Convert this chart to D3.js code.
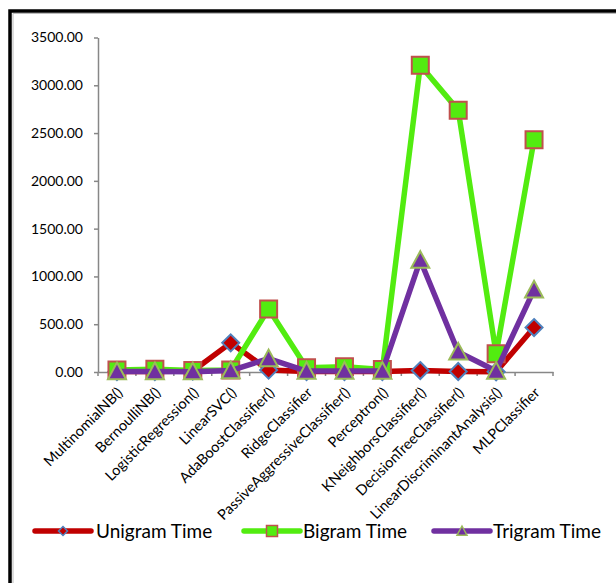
<!DOCTYPE html>
<html><head><meta charset="utf-8">
<script src="https://cdn.jsdelivr.net/npm/d3@7"></script>
<style>
html,body{margin:0;padding:0;background:#fff;}
svg{display:block;font-family:Lato, "Open Sans", sans-serif;}
</style></head>
<body>
<svg id="c" width="616" height="583"></svg>
<script>
const categories = ["MultinomialNB()","BernoulliNB()","LogisticRegression()","LinearSVC()","AdaBoostClassifier()","RidgeClassifier","PassiveAggressiveClassifier()","Perceptron()","KNeighborsClassifier()","DecisionTreeClassifier()","LinearDiscriminantAnalysis()","MLPClassifier"];
const unigram = [5,5,10,305,20,5,5,5,15,5,3,465];
const bigram  = [20,30,15,20,660,45,55,25,3210,2740,190,2430];
const trigram = [5,5,3,15,140,10,10,10,1170,210,10,860];
const yTicks = [0,500,1000,1500,2000,2500,3000,3500];
const seriesNames = ["Unigram Time","Bigram Time","Trigram Time"];

const svg = d3.select("#c");
// frame
svg.append("rect").attr("x",10).attr("y",11).attr("width",800).attr("height",800)
  .attr("fill","#fff").attr("stroke","#000").attr("stroke-width",3.5);
svg.append("path").attr("d","M13,583V13.5H616").attr("fill","none").attr("stroke","#bbb").attr("stroke-width",1);

const x = d3.scaleBand().domain(categories).range([98,553]);
const y = d3.scaleLinear().domain([0,3500]).range([372,37.5]);
const axisColor = "#878787";

// y axis
const ya = svg.append("g").attr("transform","translate(98,0)")
  .call(d3.axisLeft(y).tickValues(yTicks).tickSize(4).tickSizeOuter(0).tickPadding(11).tickFormat(d3.format(".2f")));
ya.select(".domain").attr("stroke",axisColor).attr("stroke-width",1.5);
ya.selectAll(".tick line").attr("stroke",axisColor).attr("stroke-width",1.5);
ya.selectAll(".tick text").attr("font-size",14).attr("fill","#000").attr("font-family","Lato, sans-serif");

// x axis
const xa = svg.append("g").attr("transform","translate(0,372)")
  .call(d3.axisBottom(x).tickSize(0).tickFormat(""));
xa.select(".domain").attr("stroke",axisColor).attr("stroke-width",1.5);
const bounds = categories.map(c=>x(c)).concat([x.range()[1]]);
xa.selectAll(".bt").data(bounds).enter().append("line").attr("class","bt")
  .attr("x1",d=>d).attr("x2",d=>d).attr("y1",0).attr("y2",4)
  .attr("stroke",axisColor).attr("stroke-width",1.5);
svg.append("g").selectAll("text").data(categories).enter().append("text")
  .attr("transform",d=>`translate(${x(d)+x.bandwidth()/2+3},390) rotate(-45)`)
  .attr("text-anchor","end").attr("dy","0.35em").attr("font-size",14.5).attr("fill","#000")
  .text(d=>d);

const cx = c => x(c)+x.bandwidth()/2;
const series = [
  {name:seriesNames[0], values:unigram, color:"#C00000", mfill:"#C00000", mstroke:"#4F81BD", shape:"diamond"},
  {name:seriesNames[1], values:bigram, color:"#52EC10", mfill:"#52EC10", mstroke:"#C0504D", shape:"square"},
  {name:seriesNames[2], values:trigram, color:"#7030A0", mfill:"#7030A0", mstroke:"#9BBB59", shape:"triangle"}
];
function markerPath(shape, s){
  const h = s/2;
  if(shape==="diamond") return `M0,${-h}L${h},0L0,${h}L${-h},0Z`;
  if(shape==="square") return `M${-h},${-h}H${h}V${h}H${-h}Z`;
  return `M0,${-h}L${h},${h*0.85}H${-h}Z`;
}
const line = d3.line().x((d,i)=>cx(categories[i])).y(d=>y(d));
series.forEach(s=>{
  const g = svg.append("g");
  g.append("path").datum(s.values).attr("d",line).attr("fill","none")
    .attr("stroke",s.color).attr("stroke-width",5.5).attr("stroke-linejoin","round");
  g.selectAll("path.m").data(s.values).enter().append("path").attr("class","m")
    .attr("transform",(d,i)=>`translate(${cx(categories[i])},${y(d)})`)
    .attr("d",markerPath(s.shape, s.shape==="diamond"?17:(s.shape==="square"?17:18)))
    .attr("fill",s.mfill).attr("stroke",s.mstroke).attr("stroke-width",2);
});

// legend
const legendPos = [{x:35,tx:96},{x:244,tx:303},{x:434,tx:493}];
series.forEach((s,i)=>{
  const p = legendPos[i];
  const g = svg.append("g");
  g.append("line").attr("x1",p.x).attr("x2",p.x+56).attr("y1",531).attr("y2",531)
    .attr("stroke",s.color).attr("stroke-width",5.5).attr("stroke-linecap","round");
  g.append("path").attr("transform",`translate(${p.x+28},531)`)
    .attr("d",markerPath(s.shape, s.shape==="diamond"?9:(s.shape==="square"?11:10)))
    .attr("fill",s.mfill).attr("stroke",s.mstroke).attr("stroke-width",1.5);
  g.append("text").attr("x",p.tx).attr("y",531).attr("dy","0.35em")
    .attr("font-size",19).attr("fill","#000").text(s.name);
});
</script>
</body></html>
